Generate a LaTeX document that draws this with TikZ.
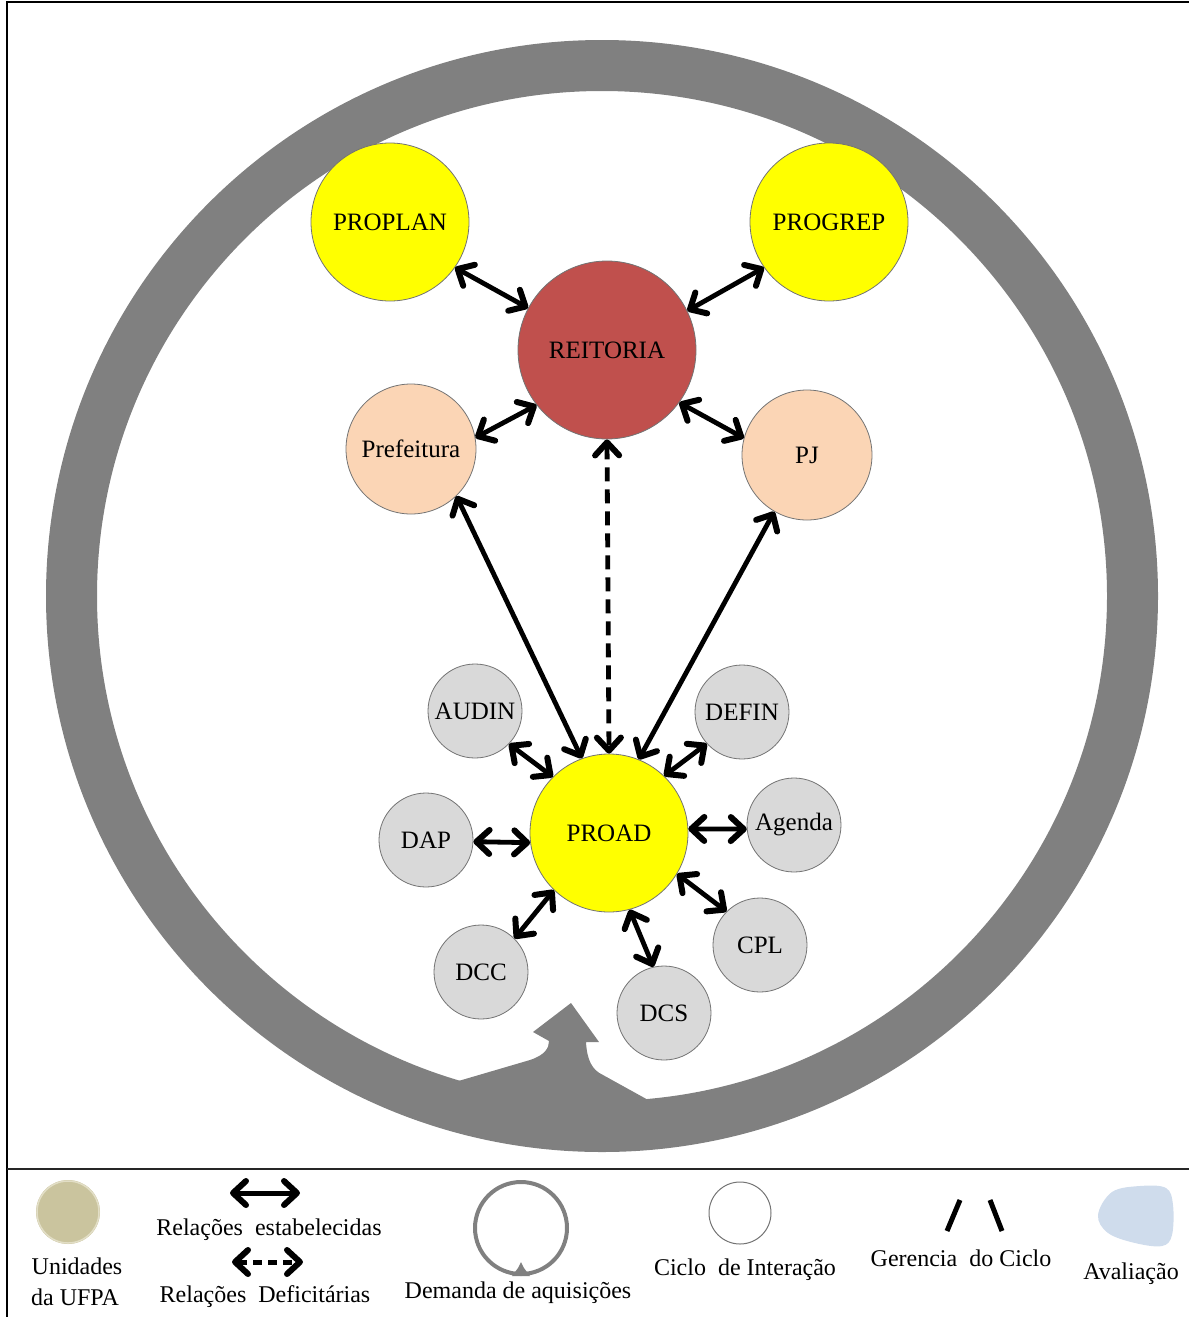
\documentclass[tikz,border=0pt]{standalone}
\usepackage{fontspec}
\setmainfont{Liberation Serif}
\usetikzlibrary{arrows.meta}
\definecolor{ringgray}{HTML}{808080}
\definecolor{unitYellow}{HTML}{FFFF00}
\definecolor{unitRed}{HTML}{C0504D}
\definecolor{unitPeach}{HTML}{FBD5B5}
\definecolor{unitGray}{HTML}{D9D9D9}
\definecolor{evalBlue}{HTML}{CFDCEC}
\definecolor{tanFill}{HTML}{CAC49E}
\definecolor{tanRim}{HTML}{E2DEC6}
\begin{document}
\begin{tikzpicture}[x=1pt,y=-1pt,
  unit/.style={circle, draw=black!55, line width=0.8pt, inner sep=0pt,
    font=\fontsize{25}{30}\selectfont},
  big/.style={unit, minimum size=158pt},
  mid/.style={unit, minimum size=130pt},
  small/.style={unit, minimum size=94pt, fill=unitGray},
  barb/.tip={Straight Barb[length=13pt,width=24pt,line width=6pt,line cap=round,line join=round]},
  rel/.style={line width=4.8pt, barb-barb},
  weak/.style={rel, dash pattern=on 14pt off 8pt},
  legtext/.style={font=\fontsize{24}{28}\selectfont, inner sep=0pt}]
\useasboundingbox (0,0) rectangle (1189,1317);

% page frame and legend separator
\draw[line width=2.5pt] (7,1317) -- (7,2) -- (1189,2);
\draw[line width=2pt, black!85] (7,1169) -- (1189,1169);

% acquisition-demand ring with its inward arrow
\fill[ringgray, even odd rule] (602,596) circle[radius=556] (602,596) circle[radius=505];
\fill[ringgray] (440,1100) -- (455,1082) -- (530,1060)
  .. controls (545,1055) and (549,1048) .. (549,1041)
  -- (533,1032) -- (571,1003) -- (599,1042) -- (586,1042)
  .. controls (587,1060) and (592,1070) .. (603,1075)
  -- (650,1101) -- (650,1130) -- (440,1125) -- cycle;

% units
\node[big, fill=unitYellow] (proplan) at (390,222) {PROPLAN};
\node[big, fill=unitYellow] (progrep) at (829,222) {PROGREP};
\node[unit, minimum size=178pt, fill=unitRed] (reit) at (607,350) {REITORIA};
\node[mid, fill=unitPeach] (pref) at (411,449) {Prefeitura};
\node[mid, fill=unitPeach] (pj) at (807,455) {PJ};
\node[big, fill=unitYellow] (proad) at (609,833) {PROAD};
\node[small] (audin) at (475,711) {AUDIN};
\node[small] (defin) at (742,712) {DEFIN};
\node[small] (dap) at (426,840) {DAP};
\node[small] (agenda) at (794,825) {Agenda};
\node[small] (dcc) at (481,972) {DCC};
\node[small] (cpl) at (760,945) {CPL};
\node[small] (dcs) at (664,1013) {DCS};

% relations
\draw[rel] (proplan.-35) -- (reit.152);
\draw[rel] (progrep.215) -- (reit.26);
\draw[rel] (pref.10) -- (reit.218);
\draw[rel] (pj.165) -- (reit.-36);
\draw[rel] (pref.-46) -- (proad.110);
\draw[rel] (pj.-120) -- (proad.68);
\draw[weak] (reit.-90) -- (proad.90);
\draw[rel] (audin.-44) -- (proad.135);
\draw[rel] (defin.222) -- (proad.46);
\draw[rel] (dap.-2) -- (proad.187);
\draw[rel] (agenda.185) -- (proad.3);
\draw[rel] (dcc.45) -- (proad.-134);
\draw[rel] (cpl.135) -- (proad.-31);
\draw[rel] (dcs.103) -- (proad.-75);

% legend: units of the university
\fill[tanFill] (68,1212) circle[radius=32];
\draw[tanRim, line width=1.5pt] (68,1212) circle[radius=31];
\node[legtext] (lunid1) at (77,1266) {Unidades};
\node[legtext] (lunid2) at (75,1297) {da UFPA};

% legend: relations
\coordinate (la1) at (230,1193);
\coordinate (la2) at (300,1193);
\draw[line width=5pt, barb-barb] (la1) -- (la2);
\node[legtext] (lrel1) at (269,1230) {Relações\ \ estabelecidas};
\coordinate (lb1) at (232,1262);
\coordinate (lb2) at (303,1262);
\draw[line width=5pt, dash pattern=on 9pt off 6pt, barb-barb] (lb1) -- (lb2);
\node[legtext] (lrel2) at (265,1297) {Relações\ \ Deficitárias};

% legend: demand ring
\draw[ringgray, line width=4pt] (521,1228) circle[radius=46];
\fill[ringgray] (512,1276) -- (518,1268) -- (521,1262) -- (524,1268) -- (530,1276) -- cycle;
\node[legtext] (ldem) at (518,1293) {Demanda de aquisições};

% legend: interaction cycle
\draw[black!55, line width=1pt] (740,1213) circle[radius=31];
\node[legtext] (lcic) at (745,1270) {Ciclo\ \ de Interação};

% legend: cycle management
\draw[line width=5pt] (947,1231) -- (960,1200);
\draw[line width=5pt] (990,1200) -- (1002,1231);
\node[legtext] (lger) at (961,1258) {Gerencia\ \ do Ciclo};

% legend: evaluation
\fill[evalBlue] plot[smooth cycle, tension=0.6] coordinates
  {(1098,1215) (1112,1192) (1140,1186) (1166,1188) (1173,1205)
   (1172,1235) (1162,1246) (1135,1243) (1108,1233)};
\node[legtext] (laval) at (1131,1274) {Avaliação};
\end{tikzpicture}
\end{document}
